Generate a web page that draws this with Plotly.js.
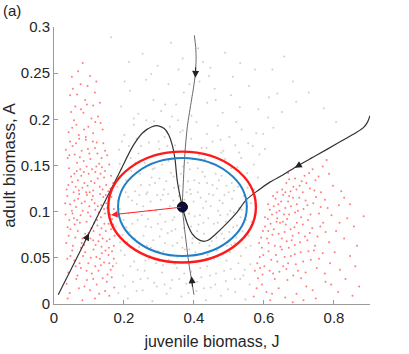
<!DOCTYPE html>
<html><head><meta charset="utf-8">
<script src="https://cdn.plot.ly/plotly-3.0.1.min.js"></script>
<style>html,body{margin:0;padding:0;background:#fff}#chart{width:409px;height:354px}</style>
</head><body><div id="chart"></div>
<script>
// ---- data ----
const redLeftPts = [[0.045,0.012],[0.081,0.004],[0.122,0.021],[0.158,0.009],[0.064,0.027],[0.103,0.015],[0.139,0.028],[0.172,0.018],[0.036,0.022],[0.094,0.026],[0.117,0.006],[0.151,0.024],[0.071,0.017],[0.129,0.011],[0.165,0.029],
[0.041,0.034],[0.058,0.047],[0.077,0.039],[0.089,0.056],[0.108,0.033],[0.121,0.051],[0.134,0.042],[0.147,0.058],[0.162,0.037],[0.171,0.049],[0.052,0.058],[0.067,0.031],[0.098,0.044],[0.113,0.059],[0.127,0.036],[0.143,0.045],[0.156,0.053],[0.168,0.041],[0.038,0.049],[0.083,0.052],[0.118,0.041],[0.137,0.055],[0.153,0.032],[0.073,0.044],[0.105,0.05],
[0.035,0.066],[0.047,0.081],[0.061,0.072],[0.074,0.088],[0.086,0.064],[0.099,0.077],[0.112,0.069],[0.124,0.085],[0.136,0.062],[0.148,0.079],[0.159,0.07],[0.169,0.086],[0.054,0.063],[0.068,0.079],[0.081,0.071],[0.093,0.089],[0.107,0.082],[0.119,0.064],[0.131,0.075],[0.144,0.087],[0.157,0.061],[0.173,0.074],[0.042,0.074],[0.059,0.086],[0.077,0.061],[0.115,0.088],[0.139,0.071],[0.163,0.081],[0.089,0.076],[0.127,0.068],
[0.033,0.097],[0.046,0.108],[0.057,0.093],[0.069,0.114],[0.082,0.101],[0.094,0.118],[0.104,0.095],[0.116,0.109],[0.128,0.099],[0.141,0.116],[0.152,0.104],[0.166,0.092],[0.038,0.117],[0.051,0.101],[0.063,0.105],[0.076,0.096],[0.088,0.111],[0.101,0.106],[0.111,0.117],[0.123,0.091],[0.135,0.107],[0.146,0.098],[0.158,0.113],[0.171,0.103],[0.044,0.091],[0.072,0.119],[0.097,0.099],[0.132,0.119],[0.161,0.097],[0.058,0.112],[0.118,0.102],[0.149,0.109],
[0.036,0.124],[0.049,0.138],[0.062,0.127],[0.075,0.146],[0.087,0.131],[0.099,0.141],[0.112,0.123],[0.125,0.136],[0.137,0.148],[0.149,0.129],[0.163,0.139],[0.043,0.147],[0.056,0.121],[0.068,0.134],[0.081,0.126],[0.093,0.149],[0.106,0.133],[0.118,0.143],[0.131,0.127],[0.143,0.137],[0.155,0.122],[0.169,0.131],[0.052,0.132],[0.078,0.139],[0.102,0.121],[0.121,0.149],[0.146,0.144],[0.065,0.144],
[0.039,0.158],[0.053,0.171],[0.066,0.153],[0.079,0.166],[0.091,0.178],[0.104,0.157],[0.117,0.169],[0.129,0.152],[0.141,0.174],[0.152,0.161],[0.046,0.176],[0.059,0.162],[0.072,0.179],[0.085,0.155],[0.097,0.168],[0.111,0.176],[0.124,0.163],[0.136,0.158],[0.158,0.151],[0.034,0.167],
[0.042,0.186],[0.057,0.199],[0.071,0.183],[0.084,0.207],[0.098,0.192],[0.112,0.185],[0.126,0.203],[0.139,0.189],[0.064,0.194],[0.091,0.181],[0.118,0.197],[0.049,0.208],
[0.046,0.226],[0.061,0.214],[0.076,0.238],[0.089,0.221],[0.103,0.247],[0.117,0.229],[0.069,0.252],[0.094,0.216],[0.131,0.218],[0.082,0.261],[0.054,0.233],
[0.039,0.006],[0.087,0.019],[0.146,0.014],[0.112,0.027],[0.062,0.041],[0.093,0.036],[0.131,0.049],[0.166,0.057],[0.047,0.052],[0.079,0.066],[0.104,0.071],[0.151,0.068],[0.171,0.063],[0.039,0.083],[0.066,0.091],[0.113,0.079],[0.134,0.094],[0.156,0.087],[0.053,0.098],[0.079,0.109],[0.108,0.113],[0.125,0.106],[0.143,0.103],[0.164,0.116],[0.041,0.129],[0.071,0.123],[0.096,0.128],[0.116,0.131],[0.139,0.124],[0.161,0.125],[0.058,0.141],[0.085,0.143],[0.109,0.146],[0.133,0.141],[0.044,0.161],[0.074,0.159],[0.101,0.163],[0.122,0.175],[0.146,0.166],[0.063,0.174],[0.086,0.189],[0.107,0.201],[0.133,0.196],[0.052,0.191],[0.077,0.211],[0.112,0.215],[0.066,0.227],[0.096,0.236],[0.051,0.246],[0.121,0.241],[0.158,0.044],[0.032,0.109],[0.136,0.082],[0.092,0.121],[0.148,0.118]];

const redRightPts = [[0.571,0.008],[0.594,0.021],[0.618,0.004],[0.642,0.017],[0.667,0.026],[0.693,0.011],[0.721,0.019],[0.748,0.006],[0.776,0.024],[0.812,0.013],[0.853,0.009],[0.583,0.028],[0.607,0.013],[0.631,0.027],[0.682,0.002],[0.706,0.028],[0.739,0.015],[0.872,0.019],
[0.574,0.036],[0.588,0.051],[0.601,0.041],[0.613,0.057],[0.626,0.033],[0.638,0.046],[0.651,0.059],[0.664,0.038],[0.677,0.052],[0.691,0.043],[0.705,0.056],[0.719,0.034],[0.734,0.048],[0.751,0.039],[0.768,0.055],[0.789,0.044],[0.817,0.037],[0.846,0.052],[0.581,0.044],[0.596,0.032],[0.621,0.048],[0.644,0.035],[0.659,0.051],[0.684,0.031],[0.712,0.046],[0.743,0.058],[0.774,0.033],[0.861,0.041],
[0.586,0.066],[0.597,0.079],[0.609,0.071],[0.619,0.087],[0.631,0.063],[0.642,0.076],[0.654,0.089],[0.665,0.068],[0.676,0.081],[0.688,0.064],[0.699,0.077],[0.711,0.086],[0.724,0.069],[0.738,0.082],[0.753,0.073],[0.769,0.088],[0.786,0.067],[0.806,0.079],[0.829,0.071],[0.857,0.084],[0.603,0.084],[0.624,0.075],[0.636,0.089],[0.647,0.062],[0.659,0.078],[0.671,0.061],[0.694,0.088],[0.717,0.073],[0.746,0.063],[0.776,0.078],[0.592,0.072],[0.682,0.074],
[0.603,0.094],[0.612,0.108],[0.623,0.097],[0.633,0.114],[0.644,0.101],[0.655,0.118],[0.666,0.092],[0.677,0.106],[0.689,0.099],[0.701,0.115],[0.713,0.103],[0.726,0.091],[0.741,0.109],[0.757,0.098],[0.774,0.113],[0.793,0.096],[0.814,0.107],[0.838,0.093],[0.885,0.095],[0.617,0.102],[0.638,0.093],[0.649,0.111],[0.661,0.104],[0.672,0.117],[0.694,0.108],[0.719,0.112],[0.733,0.097],[0.762,0.105],[0.628,0.106],[0.706,0.094],
[0.652,0.124],[0.664,0.131],[0.676,0.122],[0.689,0.136],[0.702,0.128],[0.716,0.139],[0.731,0.125],[0.747,0.134],[0.763,0.121],[0.779,0.156],[0.797,0.128],[0.821,0.122],[0.669,0.142],[0.708,0.133],[0.739,0.146],[0.756,0.138],[0.684,0.127],[0.768,0.149],[0.638,0.121],
[0.579,0.017],[0.623,0.011],[0.661,0.007],[0.713,0.004],[0.792,0.021],[0.833,0.027],[0.589,0.039],[0.616,0.036],[0.634,0.053],[0.669,0.044],[0.697,0.036],[0.727,0.057],[0.757,0.049],[0.802,0.056],[0.594,0.061],[0.613,0.066],[0.628,0.081],[0.651,0.071],[0.662,0.086],[0.679,0.069],[0.703,0.067],[0.731,0.077],[0.761,0.084],[0.816,0.088],[0.611,0.092],[0.626,0.117],[0.641,0.108],[0.657,0.097],[0.669,0.111],[0.683,0.115],[0.697,0.101],[0.711,0.121],[0.724,0.107],[0.749,0.116],[0.782,0.104],[0.846,0.108],[0.661,0.121],[0.693,0.124],[0.721,0.131],[0.744,0.123],[0.786,0.141],[0.672,0.135],[0.729,0.142],[0.612,0.079],[0.646,0.088],[0.687,0.083],[0.672,0.097],[0.636,0.099],[0.598,0.053],[0.655,0.041],[0.688,0.054],[0.866,0.063],[0.829,0.115]];

const greyPts = [[0.184,0.012],[0.197,0.031],[0.211,0.006],[0.226,0.024],[0.239,0.037],[0.253,0.015],[0.268,0.028],[0.281,0.003],[0.294,0.019],[0.309,0.034],[0.322,0.011],[0.337,0.026],[0.351,0.039],[0.364,0.008],[0.378,0.022],[0.392,0.035],[0.407,0.014],[0.421,0.029],[0.434,0.004],[0.448,0.018],[0.463,0.033],[0.477,0.009],[0.491,0.025],[0.505,0.038],[0.518,0.013],[0.532,0.027],[0.547,0.005],[0.559,0.021],[0.203,0.019],[0.259,0.036],[0.316,0.021],[0.372,0.033],[0.428,0.017],[0.486,0.036],[0.541,0.031],
[0.178,0.044],[0.189,0.067],[0.202,0.053],[0.216,0.078],[0.229,0.046],[0.243,0.062],[0.256,0.074],[0.271,0.049],[0.284,0.069],[0.298,0.057],[0.311,0.042],[0.325,0.077],[0.339,0.063],[0.353,0.051],[0.366,0.072],[0.381,0.045],[0.395,0.066],[0.409,0.079],[0.423,0.054],[0.437,0.041],[0.451,0.068],[0.466,0.058],[0.479,0.076],[0.493,0.047],[0.507,0.064],[0.521,0.072],[0.534,0.052],[0.548,0.061],[0.561,0.043],[0.196,0.075],[0.234,0.058],[0.277,0.061],[0.302,0.073],[0.345,0.043],[0.374,0.059],[0.416,0.066],[0.458,0.049],[0.501,0.078],[0.527,0.044],[0.556,0.074],
[0.176,0.084],[0.188,0.103],[0.199,0.091],[0.212,0.116],[0.224,0.087],[0.237,0.108],[0.251,0.096],[0.264,0.119],[0.278,0.083],[0.291,0.101],[0.305,0.113],[0.318,0.089],[0.331,0.106],[0.344,0.094],[0.357,0.117],[0.371,0.082],[0.386,0.098],[0.399,0.111],[0.413,0.086],[0.426,0.104],[0.441,0.093],[0.455,0.118],[0.468,0.088],[0.482,0.109],[0.496,0.097],[0.509,0.114],[0.523,0.085],[0.536,0.102],[0.549,0.091],[0.563,0.109],[0.183,0.112],[0.207,0.083],[0.244,0.118],[0.269,0.092],[0.297,0.087],[0.326,0.119],[0.361,0.101],[0.392,0.084],[0.419,0.115],[0.448,0.106],[0.475,0.096],[0.514,0.099],[0.542,0.117],
[0.181,0.127],[0.193,0.146],[0.206,0.134],[0.219,0.158],[0.232,0.122],[0.246,0.141],[0.259,0.153],[0.273,0.129],[0.287,0.147],[0.301,0.136],[0.314,0.124],[0.328,0.155],[0.342,0.138],[0.356,0.126],[0.369,0.149],[0.383,0.133],[0.397,0.157],[0.411,0.121],[0.424,0.143],[0.438,0.131],[0.452,0.152],[0.466,0.125],[0.479,0.139],[0.493,0.128],[0.507,0.147],[0.521,0.134],[0.535,0.158],[0.552,0.142],[0.571,0.151],[0.188,0.152],[0.226,0.139],[0.267,0.121],[0.309,0.151],[0.348,0.158],[0.389,0.124],[0.431,0.157],[0.472,0.148],[0.514,0.123],[0.583,0.137],
[0.186,0.167],[0.201,0.183],[0.214,0.171],[0.228,0.194],[0.242,0.163],[0.257,0.186],[0.271,0.175],[0.286,0.198],[0.301,0.168],[0.316,0.181],[0.331,0.192],[0.346,0.172],[0.361,0.186],[0.376,0.164],[0.392,0.179],[0.407,0.197],[0.422,0.169],[0.437,0.184],[0.453,0.176],[0.468,0.193],[0.484,0.166],[0.501,0.181],[0.518,0.172],[0.536,0.189],[0.555,0.174],[0.578,0.185],[0.603,0.168],[0.627,0.191],[0.236,0.179],[0.293,0.162],[0.354,0.199],[0.414,0.161],[0.476,0.178],[0.529,0.164],
[0.192,0.214],[0.217,0.231],[0.241,0.206],[0.263,0.243],[0.284,0.221],[0.306,0.209],[0.327,0.238],[0.349,0.216],[0.371,0.229],[0.393,0.204],[0.416,0.241],[0.438,0.218],[0.459,0.233],[0.482,0.207],[0.506,0.226],[0.531,0.213],[0.557,0.236],[0.584,0.211],[0.614,0.224],[0.651,0.208],[0.692,0.219],[0.278,0.249],[0.337,0.203],[0.443,0.247],
[0.214,0.262],[0.253,0.271],[0.296,0.258],[0.334,0.283],[0.368,0.266],[0.412,0.277],[0.447,0.256],[0.489,0.272],[0.532,0.261],[0.163,0.289],[0.574,0.254],
[0.624,0.254],[0.683,0.241],[0.728,0.229],[0.771,0.212],[0.658,0.268],[0.806,0.197],
[0.213,0.098],[0.231,0.071],[0.248,0.129],[0.262,0.084],[0.276,0.111],[0.289,0.131],[0.303,0.097],[0.317,0.066],[0.334,0.142],[0.347,0.081],[0.359,0.128],[0.373,0.113],[0.388,0.146],[0.402,0.095],[0.415,0.131],[0.429,0.076],[0.443,0.119],[0.457,0.087],[0.471,0.134],[0.486,0.071],[0.499,0.121],[0.512,0.083],[0.526,0.127],[0.539,0.079],[0.221,0.144],[0.239,0.091],[0.282,0.146],[0.311,0.118],[0.339,0.091],[0.367,0.061],[0.396,0.071],[0.434,0.111],[0.462,0.141],[0.491,0.089],[0.519,0.146],[0.274,0.052],[0.328,0.048],[0.382,0.153],[0.444,0.063],[0.503,0.056],
[0.191,0.058],[0.205,0.121],[0.218,0.041],[0.233,0.153],[0.247,0.027],[0.255,0.106],[0.266,0.063],[0.279,0.137],[0.292,0.044],[0.299,0.176],[0.307,0.081],[0.321,0.133],[0.333,0.017],[0.341,0.112],[0.352,0.066],[0.363,0.141],[0.376,0.091],[0.384,0.012],[0.391,0.119],[0.404,0.056],[0.411,0.147],[0.418,0.039],[0.427,0.088],[0.436,0.169],[0.446,0.031],[0.453,0.129],[0.464,0.072],[0.473,0.112],[0.481,0.054],[0.489,0.157],[0.497,0.016],[0.504,0.101],[0.516,0.066],[0.524,0.148],[0.533,0.094],[0.545,0.037],[0.553,0.126],[0.562,0.063],[0.568,0.171],[0.182,0.096],[0.194,0.176],[0.209,0.067],[0.223,0.112],[0.236,0.014],[0.249,0.171],[0.261,0.047],[0.272,0.101],[0.286,0.023],[0.295,0.118],[0.313,0.057],[0.324,0.171],[0.336,0.079],[0.343,0.126],[0.358,0.027],[0.368,0.188],[0.379,0.121],[0.387,0.059],[0.401,0.134],[0.409,0.024],[0.417,0.096],[0.431,0.138],[0.439,0.053],[0.449,0.152],[0.461,0.021],[0.469,0.101],[0.478,0.164],[0.487,0.118],[0.494,0.063],[0.508,0.131],[0.517,0.027],[0.529,0.104],[0.538,0.069],[0.551,0.106],[0.564,0.089],[0.572,0.124],[0.587,0.162],[0.598,0.184],[0.612,0.202],[0.264,0.199],[0.318,0.216],[0.387,0.238],[0.462,0.221],[0.521,0.197],[0.228,0.201],[0.202,0.241],[0.356,0.254],[0.426,0.262],[0.511,0.246],[0.638,0.228]];

// trajectory through the saddle (J, A)
const curveAJ = [0.012,0.060,0.098,0.140,0.184,0.227,0.255,0.280,0.298,0.315,0.328,0.338,0.346,0.352,0.360,0.367,0.381,0.395,0.408,0.425,0.440,0.460,0.493,0.522,0.550,0.583,0.617,0.655,0.693,0.750,0.810,0.865,0.884,0.896,0.903];
const curveAA = [0.010,0.046,0.075,0.107,0.140,0.172,0.186,0.192,0.193,0.190,0.183,0.172,0.156,0.134,0.117,0.105,0.087,0.076,0.071,0.068,0.069,0.075,0.087,0.099,0.113,0.123,0.132,0.140,0.149,0.161,0.174,0.186,0.191,0.197,0.204];
const curveBJ = [0.401,0.405,0.406,0.404,0.399,0.393,0.381,0.374,0.370,0.367,0.372,0.378,0.385,0.393,0.400];
const curveBA = [0.291,0.278,0.265,0.250,0.235,0.221,0.192,0.163,0.135,0.105,0.085,0.066,0.045,0.026,0.010];

const eqJ = [0.367], eqA = [0.105];
// ellipses: [centerJ, centerA, semiJ, semiA]
const ellipseRed  = [0.366, 0.105, 0.211, 0.060];
const ellipseBlue = [0.367, 0.105, 0.184, 0.053];
// red arrow tip (tail at equilibrium)
const redArrowTip = [0.163, 0.0965];
// arrowheads on trajectories: [tipJ, tipA, tailJ, tailA]
const trajArrows = [[0.100,0.0765,0.088,0.0675],[0.688,0.1475,0.703,0.1508],[0.404,0.245,0.405,0.258],[0.393,0.030,0.396,0.017]];

const xTicks = [0,0.2,0.4,0.6,0.8];
const yTicks = [0,0.05,0.1,0.15,0.2,0.25,0.3];
const xTickText = ['0','0.2','0.4','0.6','0.8'];
const yTickText = ['0','0.05','0.1','0.15','0.2','0.25','0.3'];

// ---- drawing ----
const font = 'Liberation Sans, Arial, Helvetica, sans-serif';
const traces = [
  {x: greyPts.map(p=>p[0]), y: greyPts.map(p=>p[1]), mode:'markers', type:'scatter',
   marker:{size:2, color:'#d2cec7', line:{width:0}}, hoverinfo:'skip'},
  {x: redLeftPts.map(p=>p[0]), y: redLeftPts.map(p=>p[1]), mode:'markers', type:'scatter',
   marker:{size:2, color:'rgba(255,70,70,0.7)', line:{width:0}}, hoverinfo:'skip'},
  {x: redRightPts.map(p=>p[0]), y: redRightPts.map(p=>p[1]), mode:'markers', type:'scatter',
   marker:{size:2, color:'rgba(255,70,70,0.7)', line:{width:0}}, hoverinfo:'skip'},
  {x: curveBJ, y: curveBA, mode:'lines', type:'scatter', line:{color:'#6a6a6a', width:1, shape:'spline', smoothing:0.8}},
  {x: curveAJ, y: curveAA, mode:'lines', type:'scatter', line:{color:'#333333', width:1.2, shape:'spline', smoothing:0.8}},
];

function ell(e, color, w){
  return {type:'circle', xref:'x', yref:'y', x0:e[0]-e[2], x1:e[0]+e[2], y0:e[1]-e[3], y1:e[1]+e[3],
          line:{color:color, width:w}, layer:'above'};
}

const annotations = [
  {x: redArrowTip[0], y: redArrowTip[1], ax: eqJ[0], ay: eqA[0], xref:'x', yref:'y', axref:'x', ayref:'y',
   text:'', showarrow:true, arrowhead:2, arrowsize:1.3, arrowwidth:1, arrowcolor:'#ff2020', standoff:0, startstandoff:0},
  {xref:'paper', yref:'paper', x:-0.168, y:1.06, xanchor:'left', yanchor:'middle', text:'(a)', showarrow:false,
   font:{family:font, size:15, color:'#222'}}
];
trajArrows.forEach(a=>{
  annotations.push({x:a[0], y:a[1], ax:a[2], ay:a[3], xref:'x', yref:'y', axref:'x', ayref:'y', text:'',
    showarrow:true, arrowhead:2, arrowsize:1.4, arrowwidth:1, arrowcolor:'#222', standoff:0});
});

traces.push({x: eqJ, y: eqA, mode:'markers', type:'scatter',
  marker:{size:10, color:'#0b0b3d', line:{color:'#000', width:1}}});

const layout = {
  width:409, height:354, showlegend:false,
  margin:{l:54, r:39, t:27, b:50, pad:0},
  paper_bgcolor:'#fff', plot_bgcolor:'#fff',
  font:{family:font, size:15, color:'#262626'},
  xaxis:{range:[0,0.903], tickvals:xTicks, ticktext:xTickText, showgrid:false, zeroline:false,
         showline:true, linecolor:'#9a9a9a', linewidth:1, ticks:'inside', ticklen:4, tickcolor:'#9a9a9a',
         tickfont:{size:15, color:'#262626'},
         title:{text:'juvenile biomass, J', font:{size:16, color:'#262626'}, standoff:10}},
  yaxis:{range:[0,0.3], tickvals:yTicks, ticktext:yTickText, showgrid:false, zeroline:false,
         showline:true, linecolor:'#9a9a9a', linewidth:1, ticks:'inside', ticklen:4, tickcolor:'#9a9a9a',
         tickfont:{size:15, color:'#262626'},
         title:{text:'adult biomass, A', font:{size:17, color:'#262626'}, standoff:4}},
  shapes:[ell(ellipseRed,'#ff1a1a',2.4), ell(ellipseBlue,'#1f7fc8',2)],
  annotations: annotations
};
Plotly.newPlot('chart', traces, layout, {displayModeBar:false, staticPlot:true});
</script></body></html>
